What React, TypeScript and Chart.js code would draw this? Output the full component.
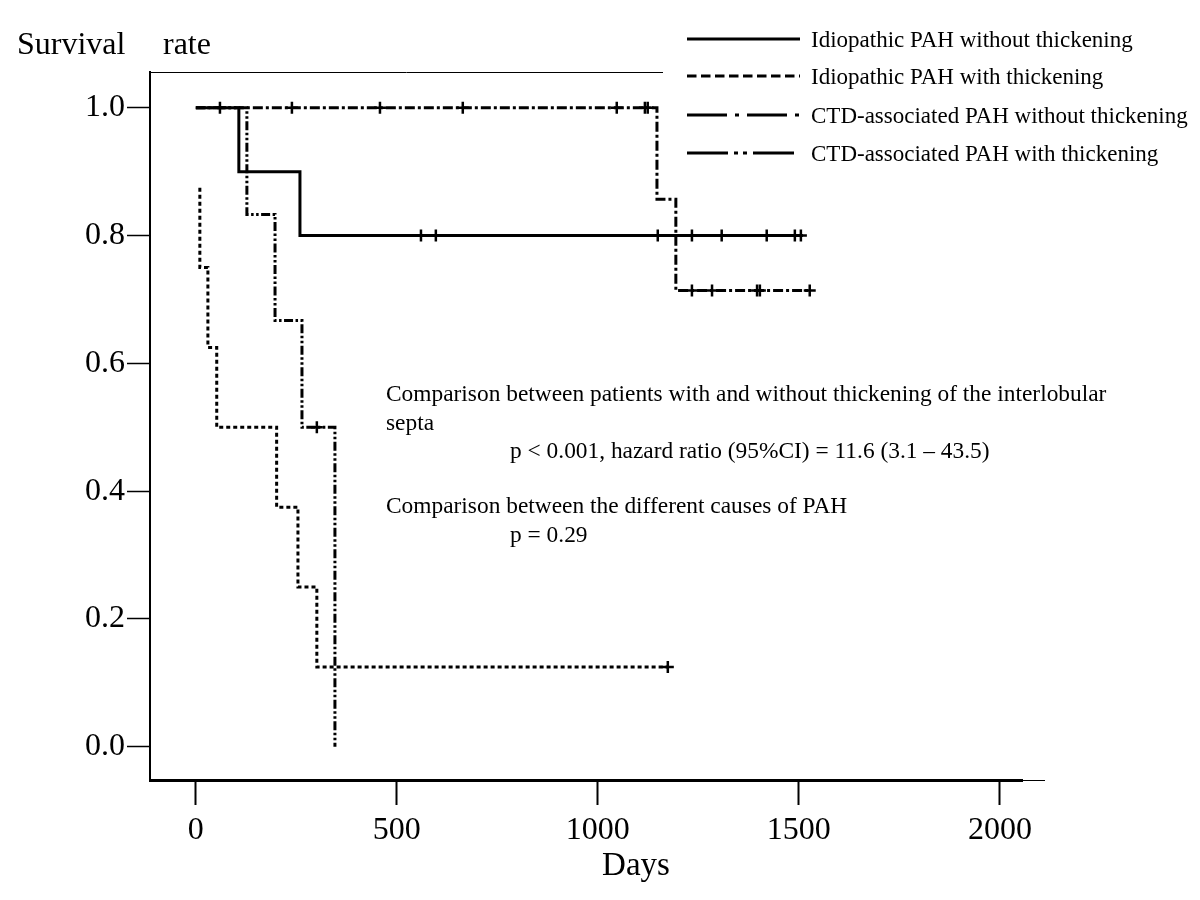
import React, { useEffect, useRef } from "react";
import { Chart, registerables } from "chart.js";

Chart.register(...registerables);

// ---------- data ----------
const seriesNames = [
  "Idiopathic PAH without thickening",
  "Idiopathic PAH with thickening",
  "CTD-associated PAH without thickening",
  "CTD-associated PAH with thickening",
];

// Kaplan–Meier steps: day of step, survival after the step
const idioNoThickDays = [0, 107, 259, 1510];
const idioNoThickSurv = [1.0, 0.9, 0.8, 0.8];
const idioNoThickCensorDays = [560, 597, 1149, 1234, 1308, 1420, 1490, 1505];
const idioNoThickCensorSurv = [0.8, 0.8, 0.8, 0.8, 0.8, 0.8, 0.8, 0.8];

const idioThickDays = [10, 10, 30, 52, 201, 254, 301, 1174];
const idioThickSurv = [0.875, 0.75, 0.625, 0.5, 0.375, 0.25, 0.125, 0.125];
const idioThickCensorDays = [1174];
const idioThickCensorSurv = [0.125];

const ctdNoThickDays = [0, 1147, 1194, 1530];
const ctdNoThickSurv = [1.0, 0.857, 0.714, 0.714];
const ctdNoThickCensorDays = [60, 239, 458, 664, 1047, 1117, 1124, 1234, 1284, 1396, 1403, 1527];
const ctdNoThickCensorSurv = [1, 1, 1, 1, 1, 1, 1, 0.714, 0.714, 0.714, 0.714, 0.714];

const ctdThickDays = [0, 127, 197, 264, 346];
const ctdThickSurv = [1.0, 0.833, 0.667, 0.5, 0.0];
const ctdThickCensorDays = [301];
const ctdThickCensorSurv = [0.5];

const xTickValues = [0, 500, 1000, 1500, 2000];
const yTickValues = [0, 0.2, 0.4, 0.6, 0.8, 1.0];

const xAxisTitle = "Days";
const yAxisTitleWords = ["Survival", "rate"];

const noteLines = [
  "Comparison between patients with and without thickening of the interlobular",
  "septa",
  "p < 0.001, hazard ratio (95%CI) = 11.6 (3.1 – 43.5)",
  "Comparison between the different causes of PAH",
  "p = 0.29",
];

// ---------- styles ----------
const SERIF = '"Liberation Serif", "Times New Roman", Times, serif';
const plotDashes: number[][] = [[], [4, 3], [10, 3, 3, 3], [9, 2.5, 2.5, 2.5, 2.5, 2.5]];
const legendDashes: number[][] = [[], [9.5, 4.5], [40, 8, 4, 8], [41, 6, 4, 5, 4, 6]];

const pts = (xs: number[], ys: number[]) => xs.map((x, i) => ({ x, y: ys[i] }));

const stepSets = [
  pts(idioNoThickDays, idioNoThickSurv),
  pts(idioThickDays, idioThickSurv),
  pts(ctdNoThickDays, ctdNoThickSurv),
  pts(ctdThickDays, ctdThickSurv),
];
const censorSets = [
  pts(idioNoThickCensorDays, idioNoThickCensorSurv),
  pts(idioThickCensorDays, idioThickCensorSurv),
  pts(ctdNoThickCensorDays, ctdNoThickCensorSurv),
  pts(ctdThickCensorDays, ctdThickCensorSurv),
];

const overlayPlugin = {
  id: "overlay",
  afterDraw(chart: any) {
    const c = chart.ctx as CanvasRenderingContext2D;
    const a = chart.chartArea;
    c.save();
    c.strokeStyle = "#000";
    c.fillStyle = "#000";
    // frame top line (partly hidden by the legend)
    c.lineWidth = 1;
    c.beginPath();
    c.moveTo(a.left, a.top + 0.5);
    c.lineTo(663, a.top + 0.5);
    c.stroke();
    // thin extension of the x axis
    c.beginPath();
    c.moveTo(a.right, a.bottom + 0.5);
    c.lineTo(a.right + 23, a.bottom + 0.5);
    c.stroke();

    // y axis title
    c.font = `32px ${SERIF}`;
    c.textBaseline = "alphabetic";
    c.textAlign = "left";
    c.fillText(yAxisTitleWords[0], 17, 54);
    c.fillText(yAxisTitleWords[1], 163, 54);

    // x axis title
    c.font = `33px ${SERIF}`;
    c.textAlign = "center";
    c.textBaseline = "middle";
    c.fillText(xAxisTitle, 636, 866);

    // legend
    const rowsY = [39, 76, 115, 153];
    c.lineWidth = 3;
    c.lineCap = "butt";
    rowsY.forEach((y, i) => {
      c.setLineDash(legendDashes[i]);
      c.beginPath();
      c.moveTo(687, y);
      c.lineTo(800, y);
      c.stroke();
    });
    c.setLineDash([]);
    c.font = `23px ${SERIF}`;
    c.textAlign = "left";
    c.textBaseline = "middle";
    rowsY.forEach((y, i) => c.fillText(seriesNames[i], 811, y + 2));

    // annotations
    c.font = `23.4px ${SERIF}`;
    const noteX = [386, 386, 510, 386, 510];
    const noteY = [395, 424, 452, 507, 536];
    noteLines.forEach((t, i) => c.fillText(t, noteX[i], noteY[i]));
    c.restore();
  },
};

export default function App() {
  const ref = useRef<HTMLCanvasElement>(null);
  useEffect(() => {
    const canvas = ref.current;
    if (!canvas) return;
    Chart.defaults.color = "#000";
    const datasets: any[] = [];
    stepSets.forEach((d, i) => {
      datasets.push({
        label: seriesNames[i],
        data: d,
        stepped: "before",
        borderColor: "#000",
        borderWidth: 3,
        borderDash: plotDashes[i],
        pointRadius: 0,
        fill: false,
      });
    });
    censorSets.forEach((d, i) => {
      datasets.push({
        label: seriesNames[i] + " censored",
        data: d,
        showLine: false,
        pointStyle: "cross",
        pointRadius: 6,
        pointBorderWidth: 2.5,
        pointBorderColor: "#000",
        pointBackgroundColor: "#000",
      });
    });
    const chart = new Chart(canvas, {
      type: "line",
      data: { datasets },
      plugins: [overlayPlugin],
      options: {
        animation: false,
        responsive: false,
        devicePixelRatio: 1,
        events: [],
        layout: { padding: { left: 0, top: 72, right: 178, bottom: 0 } },
        plugins: { legend: { display: false }, tooltip: { enabled: false } },
        scales: {
          x: {
            type: "linear",
            min: -114,
            max: 2055,
            afterBuildTicks: (s: any) => {
              s.ticks = xTickValues.map((v) => ({ value: v }));
            },
            afterFit: (s: any) => {
              s.height = 120;
            },
            border: { display: true, color: "#000", width: 3 },
            grid: {
              display: true,
              drawOnChartArea: false,
              drawTicks: true,
              tickLength: 25,
              tickWidth: 2,
              tickColor: "#000",
            },
            ticks: {
              color: "#000",
              font: { family: SERIF, size: 32 },
              padding: 6,
              maxRotation: 0,
              autoSkip: false,
              callback: (v: any) => String(v),
            },
          },
          y: {
            type: "linear",
            min: -0.052,
            max: 1.056,
            afterBuildTicks: (s: any) => {
              s.ticks = yTickValues.map((v) => ({ value: v }));
            },
            afterFit: (s: any) => {
              s.width = 150;
            },
            border: { display: true, color: "#000", width: 2 },
            grid: {
              display: true,
              drawOnChartArea: false,
              drawTicks: true,
              tickLength: 23,
              tickWidth: 1.5,
              tickColor: "#000",
            },
            ticks: {
              color: "#000",
              font: { family: SERIF, size: 32 },
              padding: 2,
              callback: (v: any) => Number(v).toFixed(1),
            },
          },
        },
      } as any,
    });
    return () => chart.destroy();
  }, []);
  return (
    <div style={{ position: "absolute", left: 0, top: 0, width: 1200, height: 900, background: "#fff" }}>
      <canvas ref={ref} width={1200} height={900} style={{ display: "block", width: 1200, height: 900 }} />
    </div>
  );
}
